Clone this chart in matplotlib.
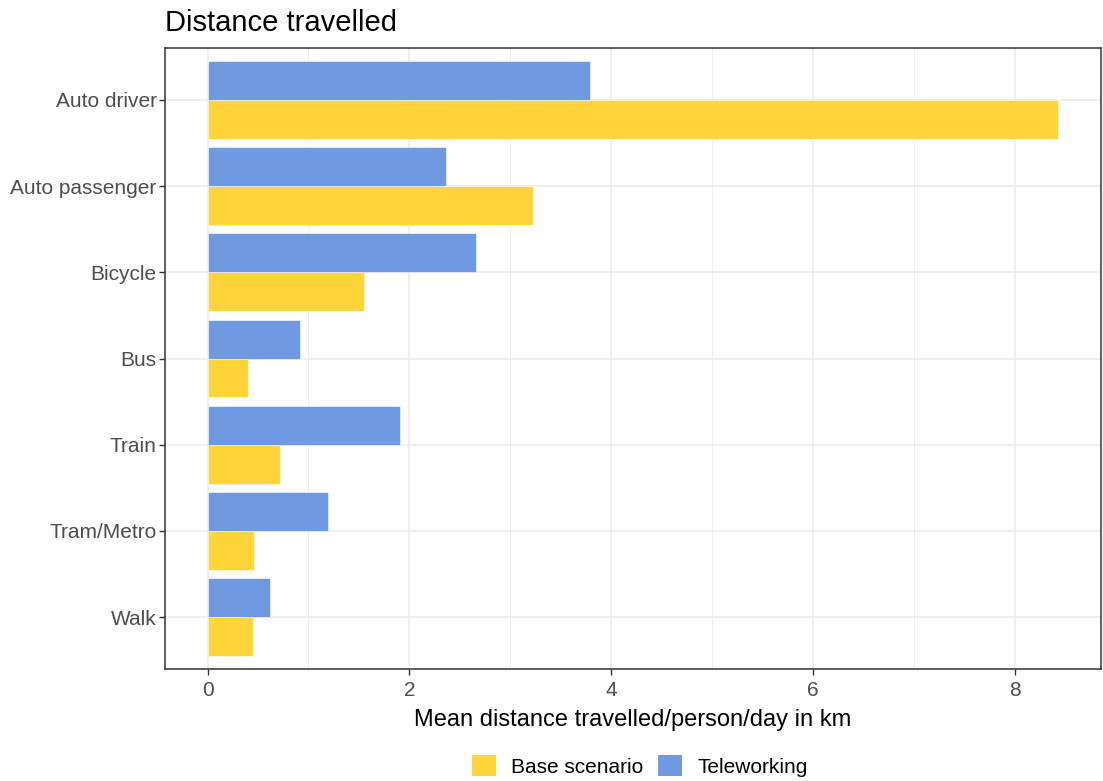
import matplotlib
matplotlib.use("Agg")
import matplotlib.pyplot as plt
import numpy as np
from matplotlib.patches import Patch

plt.rcParams['font.family'] = ['Liberation Sans', 'DejaVu Sans']

modes = ["Auto driver", "Auto passenger", "Bicycle", "Bus", "Train", "Tram/Metro", "Walk"]
base_km = [8.43, 3.22, 1.55, 0.40, 0.72, 0.46, 0.45]
tele_km = [3.79, 2.36, 2.66, 0.92, 1.91, 1.19, 0.62]
series_names = ["Base scenario", "Teleworking"]
x_ticks = [0, 2, 4, 6, 8]

base_color = "#FFD53A"
tele_color = "#6F9AE1"

W, H = 1103, 781
fig = plt.figure(figsize=(W / 100, H / 100), dpi=100)
ax = fig.add_axes([165 / W, 1 - 669 / H, (1101 - 165) / W, (669 - 48) / H])

n = len(modes)
ypos = np.arange(n)[::-1].astype(float)  # first category at top
h = 0.45
ax.barh(ypos - h / 2, base_km, height=h, color=base_color, edgecolor="white", linewidth=0.4, zorder=3)
ax.barh(ypos + h / 2, tele_km, height=h, color=tele_color, edgecolor="white", linewidth=0.4, zorder=3)

xmax = max(max(base_km), max(tele_km))
ax.set_xlim(-0.05 * xmax, xmax * 1.05)
ax.set_ylim(-0.6, n - 1 + 0.6)

ax.set_xticks(x_ticks)
ax.set_xticks([1, 3, 5, 7], minor=True)
ax.set_yticks(ypos)
ax.set_yticklabels(modes)

ax.grid(True, which="major", color="#EBEBEB", linewidth=1.1, zorder=0)
ax.grid(True, which="minor", axis="x", color="#EBEBEB", linewidth=0.6, zorder=0)
ax.tick_params(axis="both", which="major", labelsize=15, colors="#333333", length=4, width=1, labelcolor="#4D4D4D")
ax.tick_params(axis="both", which="minor", length=0)
ax.tick_params(axis="x", pad=5)
ax.tick_params(axis="y", pad=2)
for s in ax.spines.values():
    s.set_color("#333333")
    s.set_linewidth(1.1)

ax.set_xlabel("Mean distance travelled/person/day in km", fontsize=17, color="black", labelpad=6)
fig.text(165 / W, 1 - 23 / H, "Distance travelled", fontsize=21, color="black", va="center", ha="left")

handles = [Patch(facecolor=base_color, edgecolor="none"), Patch(facecolor=tele_color, edgecolor="none")]
fig.legend(handles, series_names, loc="center", bbox_to_anchor=(640 / W, 1 - 766 / H),
           ncol=2, frameon=False, fontsize=15, handlelength=1.15, handleheight=1.15,
           handletextpad=0.72, columnspacing=0.72)

fig.savefig("out.png", dpi=100)
